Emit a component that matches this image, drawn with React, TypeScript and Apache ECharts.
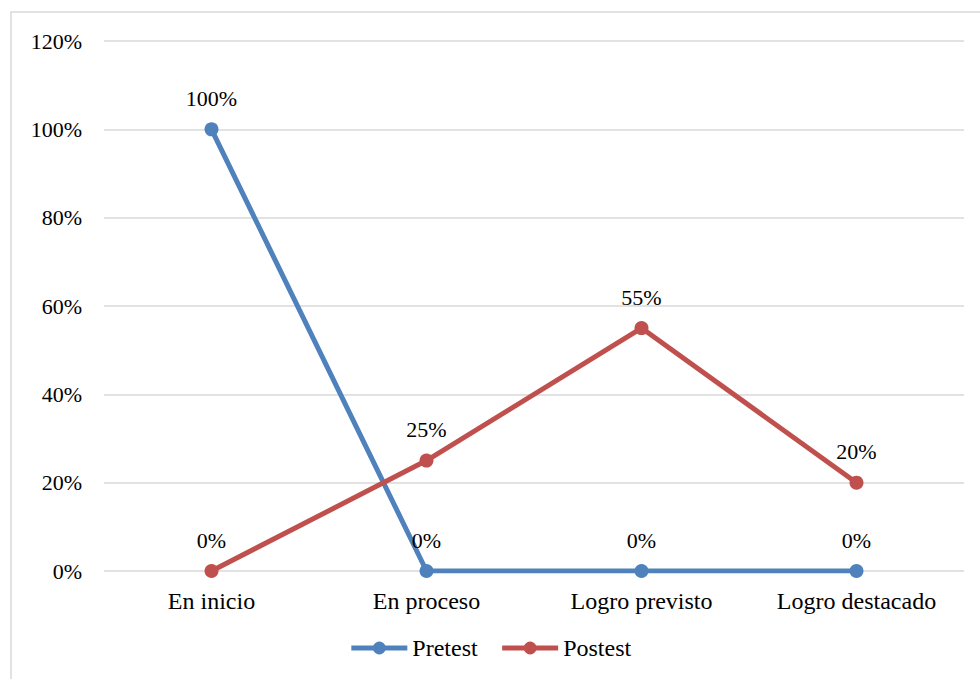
import React, { useEffect, useRef } from "react";
import * as echarts from "echarts";

const categories = ["En inicio", "En proceso", "Logro previsto", "Logro destacado"];
const seriesNames = ["Pretest", "Postest"];
const pretest = [100, 0, 0, 0];
const postest = [0, 25, 55, 20];
const yTicks = [0, 20, 40, 60, 80, 100, 120];

const FONT = "Liberation Serif";
const FS_NUM = 22;
const FS_CAT = 24;

export default function App() {
  const ref = useRef<HTMLDivElement>(null);
  useEffect(() => {
    const chart = echarts.init(ref.current!, undefined, { renderer: "svg" });
    const label = {
      show: true,
      position: "top",
      distance: 13,
      color: "#000",
      fontFamily: FONT,
      fontSize: FS_NUM,
      formatter: "{c}%",
    };
    chart.setOption({
      animation: false,
      backgroundColor: "#fff",
      graphic: [
        {
          type: "rect",
          shape: { x: 11, y: 12, width: 1000, height: 700 },
          style: { fill: "none", stroke: "#d9d9d9", lineWidth: 1.5 },
          silent: true,
        },
      ],
      grid: { left: 104, right: 16, top: 41, bottom: 108 },
      legend: {
        bottom: 14,
        left: "center",
        itemWidth: 56,
        itemHeight: 16,
        itemGap: 22,
        lineStyle: { width: 5 },
        textStyle: { fontFamily: FONT, fontSize: FS_CAT, color: "#000" },
        data: seriesNames,
      },
      xAxis: {
        type: "category",
        data: categories,
        boundaryGap: true,
        axisLine: { show: false },
        axisTick: { show: false },
        axisLabel: { color: "#000", fontFamily: FONT, fontSize: FS_CAT, margin: 18 },
      },
      yAxis: {
        type: "value",
        min: yTicks[0],
        max: yTicks[yTicks.length - 1],
        interval: yTicks[1] - yTicks[0],
        axisLine: { show: false },
        axisTick: { show: false },
        axisLabel: {
          color: "#000",
          fontFamily: FONT,
          fontSize: FS_NUM,
          margin: 22,
          formatter: "{value}%",
        },
        splitLine: { lineStyle: { color: "#d9d9d9", width: 1.5 } },
      },
      series: [
        {
          name: seriesNames[0],
          type: "line",
          data: pretest,
          symbol: "circle",
          symbolSize: 14,
          lineStyle: { color: "#4f81bd", width: 5 },
          itemStyle: { color: "#4f81bd" },
          label,
          z: 2,
        },
        {
          name: seriesNames[1],
          type: "line",
          data: postest,
          symbol: "circle",
          symbolSize: 14,
          lineStyle: { color: "#c0504d", width: 5 },
          itemStyle: { color: "#c0504d" },
          label,
          z: 3,
        },
      ],
    });
    return () => chart.dispose();
  }, []);
  return (
    <div style={{ fontFamily: FONT }}>
      <span
        aria-hidden="true"
        style={{ position: "fixed", left: -200, top: 0, opacity: 0, fontFamily: FONT }}
      >
        {"\u00a0"}
      </span>
      <div
        ref={ref}
        style={{ position: "fixed", left: 0, top: 0, width: 980, height: 679, fontFamily: FONT }}
      />
    </div>
  );
}
